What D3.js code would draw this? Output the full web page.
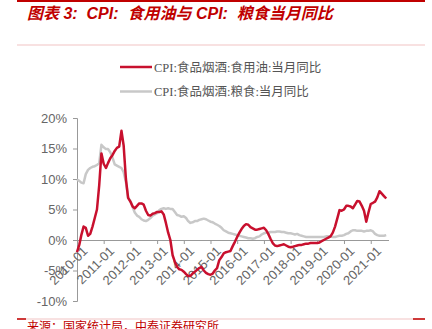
<!DOCTYPE html>
<html>
<head>
<meta charset="utf-8">
<script src="https://cdn.jsdelivr.net/npm/d3@7"></script>
<style>
  body { margin: 0; background: #fff; }
  svg { display: block; }
</style>
</head>
<body>
<svg id="chart"></svg>
<script>
// Monthly YoY (%) from 2010-01 to 2021-08
const startMonth = "2010-01";

const oilYoY = [
  -2.0, -0.8, 0.8, 2.2, 2.0, 0.7, 1.0, 2.2, 3.6, 5.0, 9.0, 14.2,
  12.5, 11.8, 12.6, 13.4, 13.9, 14.6, 15.1, 15.3, 17.9, 15.5, 10.0, 6.9,
  6.3, 5.5, 5.2, 5.6, 6.0, 6.0, 5.8, 4.8, 4.1, 4.0, 4.3, 4.4,
  4.6, 4.6, 4.7, 4.2, 2.8, 1.2, 0.0, -2.5, -3.6, -4.4, -4.8, -4.9,
  -5.2, -5.6, -5.9, -5.9, -5.5, -5.2, -4.9, -4.6, -4.4, -5.0, -5.4, -5.6,
  -5.7, -5.5, -5.0, -4.6, -3.3, -2.8, -2.2, -2.0, -1.9, -1.8, -1.0, -0.3,
  0.5, 1.2, 1.8, 2.3, 2.6, 2.5, 2.1, 1.9, 1.7, 1.7, 1.8, 1.9,
  2.0, 1.6, 1.0, 0.2, -0.5, -0.9, -1.0, -0.9, -0.8, -0.7, -0.9, -1.1,
  -1.2, -1.1, -1.0, -0.9, -0.8, -0.8, -0.7, -0.6, -0.6, -0.5, -0.5, -0.5,
  -0.5, -0.4, -0.2, 0.0, 0.2, 0.4, 0.6, 1.2, 2.2, 3.5, 4.9, 4.8,
  5.0, 5.6, 5.6, 5.5, 5.2, 5.8, 6.4, 6.3, 5.6, 4.8, 3.0, 4.5,
  5.9, 6.1, 6.3, 7.0, 8.0, 7.6, 7.2, 6.8
];

const grainYoY = [
  9.9, 9.7, 9.4, 9.3, 10.8, 11.5, 11.8, 12.0, 12.1, 12.3, 12.6, 15.6,
  15.2, 14.9, 14.9, 14.4, 13.5, 12.4, 12.2, 12.0, 11.8, 11.1, 9.5, 7.0,
  6.4, 5.4, 4.5, 4.0, 3.8, 3.4, 3.2, 3.1, 3.3, 3.6, 4.0, 4.2,
  4.4, 4.9, 5.1, 5.2, 5.1, 5.2, 5.1, 5.1, 4.6, 4.1, 4.0, 3.8,
  3.9, 3.6, 3.1, 2.8, 2.9, 3.1, 3.1, 3.3, 3.4, 3.5, 3.4, 3.2,
  3.0, 2.9, 2.7, 2.5, 2.3, 2.0, 1.6, 1.4, 1.2, 1.1, 1.0, 0.9,
  0.8, 0.7, 0.6, 0.5, 0.4, 0.3, 0.3, 0.2, 0.3, 0.5, 0.6, 0.9,
  1.1, 1.2, 1.2, 1.3, 1.3, 1.3, 1.4, 1.4, 1.3, 1.3, 1.2, 1.1,
  1.1, 1.0, 0.9, 1.0, 0.8, 0.7, 0.6, 0.5, 0.5, 0.5, 0.5, 0.5,
  0.5, 0.5, 0.5, 0.5, 0.6, 0.6, 0.6, 0.5, 0.5, 0.6, 0.7, 0.7,
  0.8, 1.0, 1.1, 1.4, 1.6, 1.6, 1.5, 1.5, 1.5, 1.4, 1.5, 1.5,
  1.6, 1.4, 1.0, 0.8, 0.7, 0.7, 0.7, 0.8
];

const yTicks = [-10, -5, 0, 5, 10, 15, 20];
const xTickYears = ["2010", "2011", "2012", "2013", "2014", "2015", "2016",
                    "2017", "2018", "2019", "2020", "2021"];

const seriesNames = ["CPI:食品烟酒:食用油:当月同比", "CPI:食品烟酒:粮食:当月同比"];
const seriesColors = ["#c8102e", "#c8c8c8"];

const W = 432, H = 329;
const svg = d3.select("#chart").attr("width", W).attr("height", H);

const parseMonth = d3.timeParse("%Y-%m");
const t0 = parseMonth(startMonth);
const months = oilYoY.map((_, i) => d3.timeMonth.offset(t0, i));

const x = d3.scaleTime()
  .domain([t0, d3.timeMonth.offset(t0, 140)])
  .range([77, 388.5]);

const y = d3.scaleLinear()
  .domain([-10, 20])
  .range([301, 118]);

// header / footer rules
const darkRed = "#c00000";
svg.append("line").attr("x1", 17).attr("x2", 425).attr("y1", 1).attr("y2", 1)
  .attr("stroke", darkRed).attr("stroke-width", 2);
svg.append("line").attr("x1", 17).attr("x2", 425).attr("y1", 45).attr("y2", 45)
  .attr("stroke", "#f2c4c4").attr("stroke-width", 1.2);
svg.append("line").attr("x1", 17).attr("x2", 425).attr("y1", 319).attr("y2", 319)
  .attr("stroke", "#f2c4c4").attr("stroke-width", 1.2);
svg.append("line").attr("x1", 17).attr("x2", 26).attr("y1", 319).attr("y2", 319)
  .attr("stroke", darkRed).attr("stroke-width", 1.5);
svg.append("line").attr("x1", 413).attr("x2", 425).attr("y1", 319).attr("y2", 319)
  .attr("stroke", darkRed).attr("stroke-width", 1.5);

svg.append("text")
  .attr("x", 27).attr("y", 19)
  .attr("fill", darkRed)
  .attr("font-family", "'Liberation Sans', 'Noto Sans CJK SC', sans-serif")
  .attr("font-size", 16)
  .attr("font-weight", "bold")
  .attr("font-style", "italic")
  .style("white-space", "pre")
  .text("图表 3:  CPI:  食用油与 CPI:  粮食当月同比");

svg.append("text")
  .attr("x", 27).attr("y", 331)
  .attr("fill", darkRed)
  .attr("font-family", "'Noto Sans CJK SC', sans-serif")
  .attr("font-size", 12)
  .text("来源：国家统计局，中泰证券研究所");

// legend
const legend = svg.append("g")
  .selectAll("g")
  .data(seriesNames)
  .join("g")
  .attr("transform", (d, i) => `translate(120,${67 + i * 24.5})`);

legend.append("line")
  .attr("x1", 0).attr("x2", 32)
  .attr("stroke", (d, i) => seriesColors[i])
  .attr("stroke-width", 2.5);

legend.append("text")
  .attr("x", 34).attr("dy", "0.36em")
  .attr("fill", "#555")
  .attr("font-family", "'Liberation Serif', 'Noto Sans CJK SC', serif")
  .attr("font-size", 12.5)
  .text(d => d);

// axes
const axisColor = "#999";
const labelColor = "#666";

const yAxis = svg.append("g")
  .attr("transform", "translate(77,0)")
  .call(d3.axisLeft(y).tickValues(yTicks).tickSize(4).tickPadding(6)
    .tickFormat(d => d + "%"));
yAxis.select(".domain").attr("stroke", axisColor);
yAxis.selectAll(".tick line").attr("stroke", axisColor);
yAxis.selectAll(".tick text")
  .attr("fill", labelColor)
  .attr("font-family", "'Liberation Sans', Arial, sans-serif")
  .attr("font-size", 13);

const xTicks = xTickYears.map(yr => parseMonth(yr + "-01"));
const xAxis = svg.append("g")
  .attr("transform", `translate(0,${y(0)})`)
  .call(d3.axisBottom(x).tickValues(xTicks).tickSizeInner(4).tickSizeOuter(0)
    .tickFormat(d3.timeFormat("%Y-%m")));
xAxis.select(".domain").attr("stroke", axisColor);
xAxis.selectAll(".tick line").attr("stroke", axisColor);
xAxis.selectAll(".tick text")
  .attr("fill", labelColor)
  .attr("font-family", "'Liberation Sans', Arial, sans-serif")
  .attr("font-size", 13)
  .attr("text-anchor", "end")
  .attr("transform", "translate(4,5) rotate(-45)")
  .attr("dy", "0.75em")
  .attr("y", 0);

// series lines
const line = d3.line()
  .x((d, i) => x(months[i]))
  .y(d => y(d))
  .curve(d3.curveLinear);

svg.append("path")
  .datum(grainYoY)
  .attr("fill", "none")
  .attr("stroke", seriesColors[1])
  .attr("stroke-width", 2.5)
  .attr("stroke-linejoin", "round")
  .attr("d", line);

svg.append("path")
  .datum(oilYoY)
  .attr("fill", "none")
  .attr("stroke", seriesColors[0])
  .attr("stroke-width", 2.5)
  .attr("stroke-linejoin", "round")
  .attr("d", line);
</script>
</body>
</html>
